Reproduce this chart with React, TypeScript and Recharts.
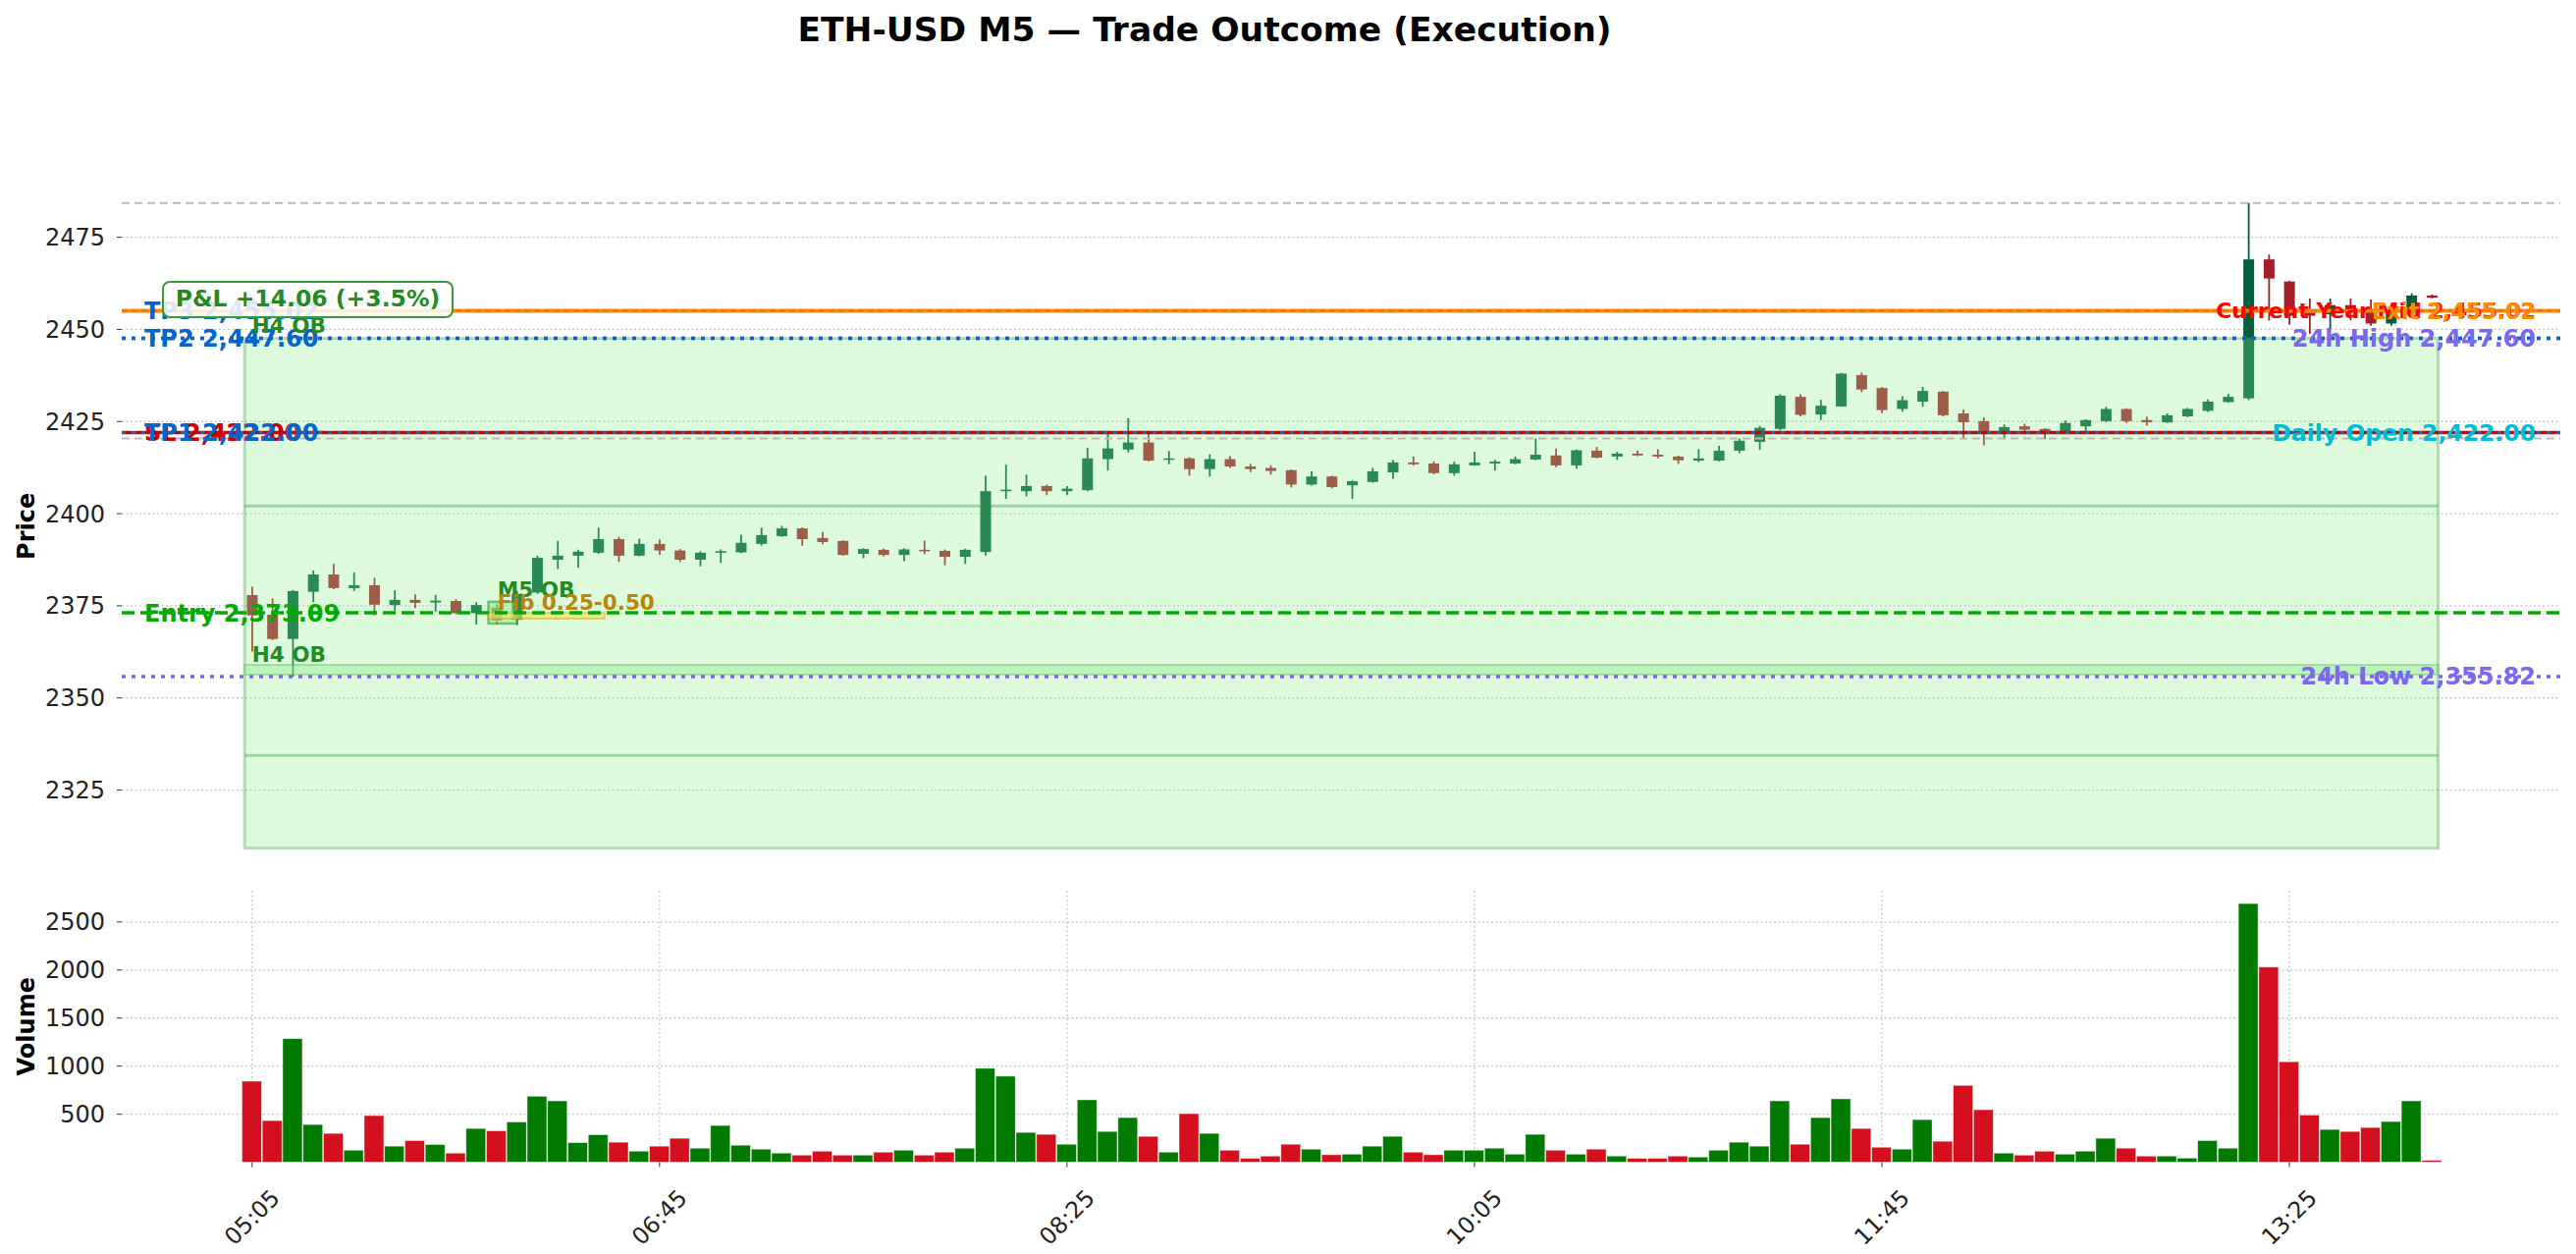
import React from "react";
import {
  ComposedChart,
  Bar,
  XAxis,
  YAxis,
  CartesianGrid,
  ReferenceLine,
  ReferenceArea,
  ReferenceDot,
} from "recharts";

document.body.style.margin = "0";

// ---- data ----
const opens = [
  2377.9, 2372.6, 2366.0, 2378.8, 2383.5, 2379.8, 2380.6, 2375.2, 2376.6, 2375.9,
  2376.3, 2373.0, 2374.5, 2371.2, 2378.6, 2387.5, 2388.6, 2389.4, 2393.1, 2388.6,
  2391.8, 2390.0, 2387.5, 2389.5, 2389.5, 2391.8, 2393.9, 2396.0, 2393.4, 2392.6,
  2389.1, 2390.2, 2388.8, 2390.2, 2389.9, 2388.3, 2389.6, 2406.1, 2406.1, 2407.5,
  2406.1, 2406.4, 2414.8, 2417.4, 2419.3, 2414.6, 2415.0, 2412.1, 2414.8, 2412.8,
  2412.4, 2411.8, 2407.9, 2410.1, 2407.7, 2408.6, 2411.2, 2413.9, 2413.6, 2411.0,
  2413.1, 2413.6, 2413.6, 2414.7, 2415.8, 2413.1, 2417.1, 2415.5, 2416.3, 2416.0,
  2415.5, 2414.4, 2414.4, 2417.1, 2419.5, 2423.0, 2431.7, 2426.9, 2429.1, 2437.6,
  2434.1, 2428.4, 2430.4, 2433.1, 2427.2, 2425.1, 2422.1, 2423.7, 2423.0, 2422.1,
  2423.7, 2425.1, 2428.4, 2425.4, 2424.8, 2426.4, 2427.9, 2430.3, 2431.3, 2469.0,
  2463.0, 2454.6, 2454.1, 2456.6, 2455.5, 2451.6, 2454.3, 2459.2,
];
const highs = [
  2380.2, 2377.0, 2379.3, 2384.6, 2386.4, 2384.1, 2382.6, 2379.2, 2378.1, 2378.0,
  2376.8, 2376.0, 2375.5, 2379.0, 2388.6, 2392.6, 2390.2, 2396.2, 2393.7, 2393.2,
  2393.0, 2390.4, 2389.8, 2390.3, 2394.3, 2396.2, 2396.7, 2396.3, 2395.0, 2392.8,
  2390.6, 2390.5, 2390.6, 2392.7, 2390.3, 2390.5, 2410.3, 2413.3, 2410.6, 2407.9,
  2407.5, 2417.9, 2421.7, 2425.9, 2421.7, 2417.0, 2415.3, 2416.1, 2415.6, 2413.5,
  2413.1, 2412.0, 2411.5, 2410.3, 2409.0, 2412.4, 2414.6, 2415.5, 2414.2, 2414.1,
  2416.8, 2414.6, 2415.5, 2420.4, 2417.7, 2417.4, 2418.1, 2416.8, 2417.1, 2417.5,
  2415.7, 2417.5, 2418.4, 2420.4, 2423.8, 2432.4, 2432.4, 2430.9, 2438.2, 2438.3,
  2434.4, 2431.9, 2434.4, 2433.3, 2428.2, 2426.1, 2424.2, 2424.4, 2423.2, 2425.3,
  2425.6, 2429.0, 2428.6, 2426.3, 2427.2, 2428.7, 2431.0, 2432.5, 2484.3, 2470.3,
  2463.2, 2458.4, 2458.4, 2458.4, 2458.1, 2456.3, 2459.8, 2459.5,
];
const lows = [
  2362.6, 2365.7, 2355.8, 2376.0, 2379.5, 2379.0, 2372.4, 2373.7, 2374.4, 2373.4,
  2372.7, 2369.9, 2370.0, 2369.8, 2378.2, 2385.0, 2385.3, 2389.1, 2386.9, 2388.4,
  2388.8, 2386.9, 2385.7, 2386.6, 2389.3, 2391.3, 2393.7, 2391.3, 2391.7, 2388.6,
  2387.9, 2388.4, 2387.1, 2389.0, 2386.0, 2386.4, 2388.6, 2404.0, 2404.7, 2405.0,
  2405.0, 2406.1, 2411.7, 2416.6, 2414.2, 2413.4, 2410.3, 2410.1, 2412.4, 2411.3,
  2410.6, 2407.1, 2407.6, 2406.9, 2404.0, 2408.4, 2409.4, 2413.1, 2410.7, 2410.3,
  2413.0, 2411.7, 2413.4, 2414.5, 2412.6, 2412.2, 2415.0, 2414.6, 2415.6, 2415.0,
  2413.5, 2414.0, 2414.2, 2416.4, 2417.3, 2422.6, 2426.4, 2425.4, 2429.0, 2433.0,
  2427.3, 2427.7, 2429.0, 2426.4, 2420.2, 2418.6, 2420.2, 2422.1, 2420.2, 2421.8,
  2422.1, 2424.9, 2424.6, 2423.9, 2424.6, 2426.2, 2427.6, 2430.1, 2430.8, 2452.4,
  2451.3, 2448.8, 2450.1, 2452.5, 2451.0, 2451.0, 2454.1, 2458.4,
];
const closes = [
  2372.4, 2366.0, 2379.0, 2383.5, 2379.8, 2380.6, 2375.3, 2376.6, 2375.8, 2376.4,
  2373.0, 2375.2, 2371.0, 2378.2, 2388.0, 2388.6, 2389.7, 2393.1, 2388.6, 2391.8,
  2390.0, 2387.5, 2389.4, 2389.8, 2392.1, 2394.2, 2396.0, 2393.1, 2392.3, 2388.8,
  2390.4, 2388.8, 2390.3, 2389.9, 2388.3, 2390.2, 2406.1, 2406.5, 2407.5, 2406.1,
  2406.8, 2415.0, 2417.7, 2419.3, 2414.4, 2415.0, 2412.1, 2414.8, 2412.8, 2412.1,
  2411.6, 2407.9, 2410.1, 2407.2, 2408.8, 2411.5, 2413.9, 2413.4, 2411.0, 2413.4,
  2413.9, 2414.1, 2414.8, 2416.0, 2413.1, 2417.2, 2415.2, 2416.3, 2415.8, 2415.5,
  2414.5, 2415.0, 2417.1, 2419.8, 2423.3, 2432.0, 2426.8, 2429.3, 2438.0, 2433.7,
  2428.1, 2430.8, 2433.3, 2426.7, 2424.8, 2422.1, 2423.5, 2422.8, 2422.1, 2424.6,
  2425.4, 2428.4, 2425.1, 2424.8, 2426.7, 2428.4, 2430.4, 2431.7, 2469.0, 2463.8,
  2453.7, 2453.7, 2456.6, 2455.2, 2451.6, 2454.3, 2459.2, 2458.6,
];
const volumes = [
  844, 434, 1286, 393, 301, 126, 486, 168, 226, 185,
  96, 352, 328, 420, 687, 639, 205, 287, 209, 116,
  168, 250, 147, 383, 178, 137, 96, 75, 116, 75,
  75, 106, 126, 75, 106, 147, 978, 896, 311, 291,
  188, 650, 321, 465, 270, 106, 506, 301, 126, 41,
  65, 188, 137, 79, 85, 168, 270, 106, 79, 126,
  126, 147, 85, 291, 126, 85, 137, 65, 41, 41,
  65, 55, 126, 209, 168, 639, 188, 465, 660, 352,
  157, 137, 444, 219, 800, 547, 96, 75, 116, 85,
  116, 250, 147, 65, 65, 44, 226, 147, 2691, 2031,
  1046, 492, 342, 321, 362, 424, 639, 20,
];

const timeTicks = [0, 20, 40, 60, 80, 100];
const timeLabels = ["05:05", "06:45", "08:25", "10:05", "11:45", "13:25"];
const priceTicks = [2325, 2350, 2375, 2400, 2425, 2450, 2475];
const volumeTicks = [500, 1000, 1500, 2000, 2500];

// trade levels
const ENTRY = 2373.09;
const EXIT = 2455.02;
const TP1 = 2422.0;
const TP2 = 2447.6;
const TP3 = 2455.02;
const SL = 2422.0;
const DAILY_OPEN = 2422.0;
const HIGH_24H = 2447.6;
const LOW_24H = 2355.82;
const YEAR_MID = 2455.02;
const RANGE_HIGH = 2484.3;
const RANGE_LOW = 2420.4;

// zones (index, price)
const tradeZone = { x1: -0.37, x2: 107.3, y1: 2309.2, y2: 2447.6 };
const zoneInnerLines = [2402.1, 2334.4];
const h4Band = { y1: 2356.3, y2: 2359.0 };
const m5Ob = { x1: 11.6, x2: 13.0, y1: 2370.2, y2: 2376.1 };
const fibBand = { x1: 11.6, x2: 17.3, y1: 2371.5, y2: 2373.1 };

const candles = opens.map((o, i) => ({
  i,
  open: o,
  high: highs[i],
  low: lows[i],
  close: closes[i],
  range: [lows[i], highs[i]],
  volume: volumes[i],
  up: closes[i] >= o,
}));

const W = 2624;
const H = 1277;
const X_DOMAIN = [-6.4, 113.3];
const UP = "#005f3c";
const DOWN = "#a3202b";
const VOL_UP = "#007a00";
const VOL_DOWN = "#d40f1e";
const FONT = "'DejaVu Sans', sans-serif";

function Candle(props: any) {
  const { x, y, width, height, payload } = props;
  if (x == null || y == null || !payload) return null;
  const top = Math.min(y, y + height);
  const h = Math.abs(height);
  const span = payload.high - payload.low || 1;
  const py = (v: number) => top + ((payload.high - v) / span) * h;
  const color = payload.up ? UP : DOWN;
  const cx = x + width / 2;
  const bTop = py(Math.max(payload.open, payload.close));
  const bH = Math.max(py(Math.min(payload.open, payload.close)) - bTop, 1.5);
  return (
    <g>
      <line x1={cx} x2={cx} y1={top} y2={top + h} stroke={color} strokeWidth={1.8} />
      <rect x={x} y={bTop} width={width} height={bH} fill={color} />
    </g>
  );
}

function VolumeBar(props: any) {
  const { x, y, width, height, payload } = props;
  if (x == null || y == null || !payload) return null;
  return (
    <rect
      x={x}
      y={Math.min(y, y + height)}
      width={width}
      height={Math.abs(height)}
      fill={payload.up ? VOL_UP : VOL_DOWN}
      stroke="#ffffff"
      strokeOpacity={0.6}
      strokeWidth={0.8}
    />
  );
}

const axisTitle = (text: string) => (props: any) => {
  const vb = props.viewBox || {};
  const x = (vb.x || 0) + 27;
  const y = (vb.y || 0) + (vb.height || 0) / 2;
  return (
    <text
      x={x}
      y={y}
      transform={`rotate(-90 ${x} ${y})`}
      textAnchor="middle"
      dominantBaseline="central"
      fontSize={24}
      fontWeight={700}
      fill="#000"
    >
      {text}
    </text>
  );
};

function TimeTick(props: any) {
  const { x, y, payload } = props;
  const idx = timeTicks.indexOf(payload.value);
  const cy = y + 49;
  return (
    <text
      x={x}
      y={cy}
      transform={`rotate(-45 ${x} ${cy})`}
      textAnchor="middle"
      dominantBaseline="central"
      fontSize={23.5}
      fill="#222"
    >
      {idx >= 0 ? timeLabels[idx] : ""}
    </text>
  );
}

const lbl = (value: string, position: string, fill: string, size = 24) => ({
  value,
  position,
  offset: position === "insideLeft" ? 23 : 25,
  fill,
  fontSize: size,
  fontWeight: 700,
});

const yTick = { fill: "#222", fontSize: 24 };
const noteLabel = (value: string, fill: string) => ({
  value,
  position: "right",
  offset: 0,
  fill,
  fontSize: 21.5,
  fontWeight: 700,
});

function App() {
  return (
    <div
      style={{
        position: "relative",
        width: W,
        height: H,
        background: "#fff",
        overflow: "hidden",
        fontFamily: FONT,
      }}
    >
      <div
        style={{
          position: "absolute",
          left: 0,
          top: 10,
          width: 2454,
          textAlign: "center",
          fontSize: 34.5,
          lineHeight: "40px",
          fontWeight: 700,
          color: "#000",
        }}
      >
        ETH-USD M5 — Trade Outcome (Execution)
      </div>

      {/* price panel */}
      <div style={{ position: "absolute", left: 0, top: 0 }}>
        <ComposedChart
          width={W}
          height={H}
          data={candles}
          margin={{ top: 176.7, right: 16, bottom: 382, left: 0 }}
        >
          <CartesianGrid
            stroke="#c8c8c8"
            strokeDasharray="2 2.5"
            strokeWidth={1.3}
            syncWithTicks
          />
          <XAxis
            dataKey="i"
            type="number"
            domain={X_DOMAIN}
            allowDataOverflow
            ticks={timeTicks}
            tick={false}
            tickLine={false}
            axisLine={false}
            height={0}
          />
          <YAxis
            type="number"
            domain={[2300.9, 2492.3]}
            allowDataOverflow
            ticks={priceTicks}
            width={124}
            tickSize={5}
            tickMargin={12}
            axisLine={false}
            tickLine={{ stroke: "#333" }}
            tick={yTick}
            label={{ content: axisTitle("Price") }}
          />

          <Bar
            dataKey="range"
            barSize={11}
            shape={<Candle />}
            isAnimationActive={false}
          />

          <ReferenceArea
            x1={tradeZone.x1}
            x2={tradeZone.x2}
            y1={tradeZone.y1}
            y2={tradeZone.y2}
            fill="#90ee90"
            fillOpacity={0.3}
            stroke="#2e8b2e"
            strokeOpacity={0.3}
            strokeWidth={3}
            zIndex={350}
          />
          <ReferenceArea
            x1={tradeZone.x1}
            x2={tradeZone.x2}
            y1={h4Band.y1}
            y2={h4Band.y2}
            fill="#90ee90"
            fillOpacity={0.45}
            stroke="#2e8b2e"
            strokeOpacity={0.25}
            strokeWidth={2}
            zIndex={351}
          />
          <ReferenceArea
            x1={m5Ob.x1}
            x2={m5Ob.x2}
            y1={m5Ob.y1}
            y2={m5Ob.y2}
            fill="#90ee90"
            fillOpacity={0.55}
            stroke="#2e8b2e"
            strokeOpacity={0.55}
            strokeWidth={2.5}
            zIndex={352}
          />
          <ReferenceArea
            x1={fibBand.x1}
            x2={fibBand.x2}
            y1={fibBand.y1}
            y2={fibBand.y2}
            fill="#f0e060"
            fillOpacity={0.6}
            stroke="#daa520"
            strokeOpacity={0.5}
            strokeWidth={2}
            zIndex={353}
          />
          {zoneInnerLines.map((p) => (
            <ReferenceLine
              key={p}
              segment={[
                { x: tradeZone.x1, y: p },
                { x: tradeZone.x2, y: p },
              ]}
              stroke="#2e8b2e"
              strokeOpacity={0.35}
              strokeWidth={3}
              zIndex={354}
            />
          ))}

          <ReferenceLine y={RANGE_HIGH} stroke="#bbbbbb" strokeWidth={2} strokeDasharray="8 5" />
          <ReferenceLine y={RANGE_LOW} stroke="#bbbbbb" strokeWidth={2} strokeDasharray="8 5" />

          <ReferenceLine
            y={TP3}
            stroke="#0066cc"
            strokeWidth={3}
            strokeDasharray="4 6"
            label={lbl("TP3 2,455.02", "insideLeft", "#0066cc")}
          />
          <ReferenceLine
            y={YEAR_MID}
            stroke="#ff8c00"
            strokeWidth={4}
            label={lbl("Current Year Mid 2,455.02", "insideRight", "#ff0000", 22)}
          />
          <ReferenceLine
            y={EXIT}
            stroke="#e67300"
            strokeWidth={2}
            strokeDasharray="6 4"
            label={lbl("Exit 2,455.02", "insideRight", "#ff8c00", 22.5)}
          />

          <ReferenceLine
            y={HIGH_24H}
            stroke="#7b68ee"
            strokeWidth={3.5}
            strokeDasharray="4 6"
            label={lbl("24h High 2,447.60", "insideRight", "#7b68ee")}
          />
          <ReferenceLine
            y={TP2}
            stroke="#0066cc"
            strokeWidth={3.5}
            strokeDasharray="4 6"
            label={lbl("TP2 2,447.60", "insideLeft", "#0066cc")}
          />

          <ReferenceLine
            y={SL}
            stroke="#cc0000"
            strokeWidth={3.5}
            label={lbl("SL 2,422.00", "insideLeft", "#cc0000")}
          />
          <ReferenceLine
            y={DAILY_OPEN}
            stroke="none"
            label={lbl("Daily Open 2,422.00", "insideRight", "#00bcd4", 23.5)}
          />
          <ReferenceLine
            y={TP1}
            stroke="#1a5fcc"
            strokeWidth={3}
            strokeDasharray="4 6"
            label={lbl("TP1 2,422.00", "insideLeft", "#0066cc")}
          />

          <ReferenceLine
            y={ENTRY}
            stroke="#00aa00"
            strokeWidth={3.5}
            strokeDasharray="13 6"
            label={lbl("Entry 2,373.09", "insideLeft", "#00aa00")}
          />
          <ReferenceLine
            y={LOW_24H}
            stroke="#7b68ee"
            strokeWidth={3.5}
            strokeDasharray="4 6"
            label={lbl("24h Low 2,355.82", "insideRight", "#7b68ee")}
          />

          <ReferenceDot x={0} y={2451.0} r={0} fill="none" stroke="none" label={noteLabel("H4 OB", "#228b22")} />
          <ReferenceDot x={0} y={2361.9} r={0} fill="none" stroke="none" label={noteLabel("H4 OB", "#228b22")} />
          <ReferenceDot x={12.05} y={2379.5} r={0} fill="none" stroke="none" label={noteLabel("M5 OB", "#228b22")} />
          <ReferenceDot x={12.05} y={2376.0} r={0} fill="none" stroke="none" label={noteLabel("Fib 0.25-0.50", "#b8860b")} />
        </ComposedChart>
      </div>

      {/* volume panel */}
      <div style={{ position: "absolute", left: 0, top: 0 }}>
        <ComposedChart
          width={W}
          height={H}
          data={candles}
          margin={{ top: 906.9, right: 16, bottom: 0, left: 0 }}
        >
          <CartesianGrid
            stroke="#c8c8c8"
            strokeDasharray="2 2.5"
            strokeWidth={1.3}
            syncWithTicks
          />
          <XAxis
            dataKey="i"
            type="number"
            domain={X_DOMAIN}
            allowDataOverflow
            ticks={timeTicks}
            tick={<TimeTick />}
            tickSize={5}
            tickLine={{ stroke: "#333" }}
            axisLine={false}
            height={93.4}
          />
          <YAxis
            type="number"
            domain={[0, 2826]}
            allowDataOverflow
            ticks={volumeTicks}
            width={124}
            tickSize={5}
            tickMargin={12}
            axisLine={false}
            tickLine={{ stroke: "#333" }}
            tick={yTick}
            label={{ content: axisTitle("Volume") }}
          />
          <Bar
            dataKey="volume"
            barSize={20}
            shape={<VolumeBar />}
            isAnimationActive={false}
          />
        </ComposedChart>
      </div>

      {/* P&L badge */}
      <div
        style={{
          position: "absolute",
          left: 165,
          top: 285.7,
          width: 297,
          height: 38.3,
          boxSizing: "border-box",
          border: "2.5px solid #3a9a3a",
          borderRadius: 8,
          background: "rgba(255,255,255,0.85)",
          color: "#228b22",
          fontSize: 23.5,
          lineHeight: "33px",
          fontWeight: 700,
          textAlign: "center",
          whiteSpace: "nowrap",
        }}
      >
        P&amp;L +14.06 (+3.5%)
      </div>
    </div>
  );
}

export default App;
